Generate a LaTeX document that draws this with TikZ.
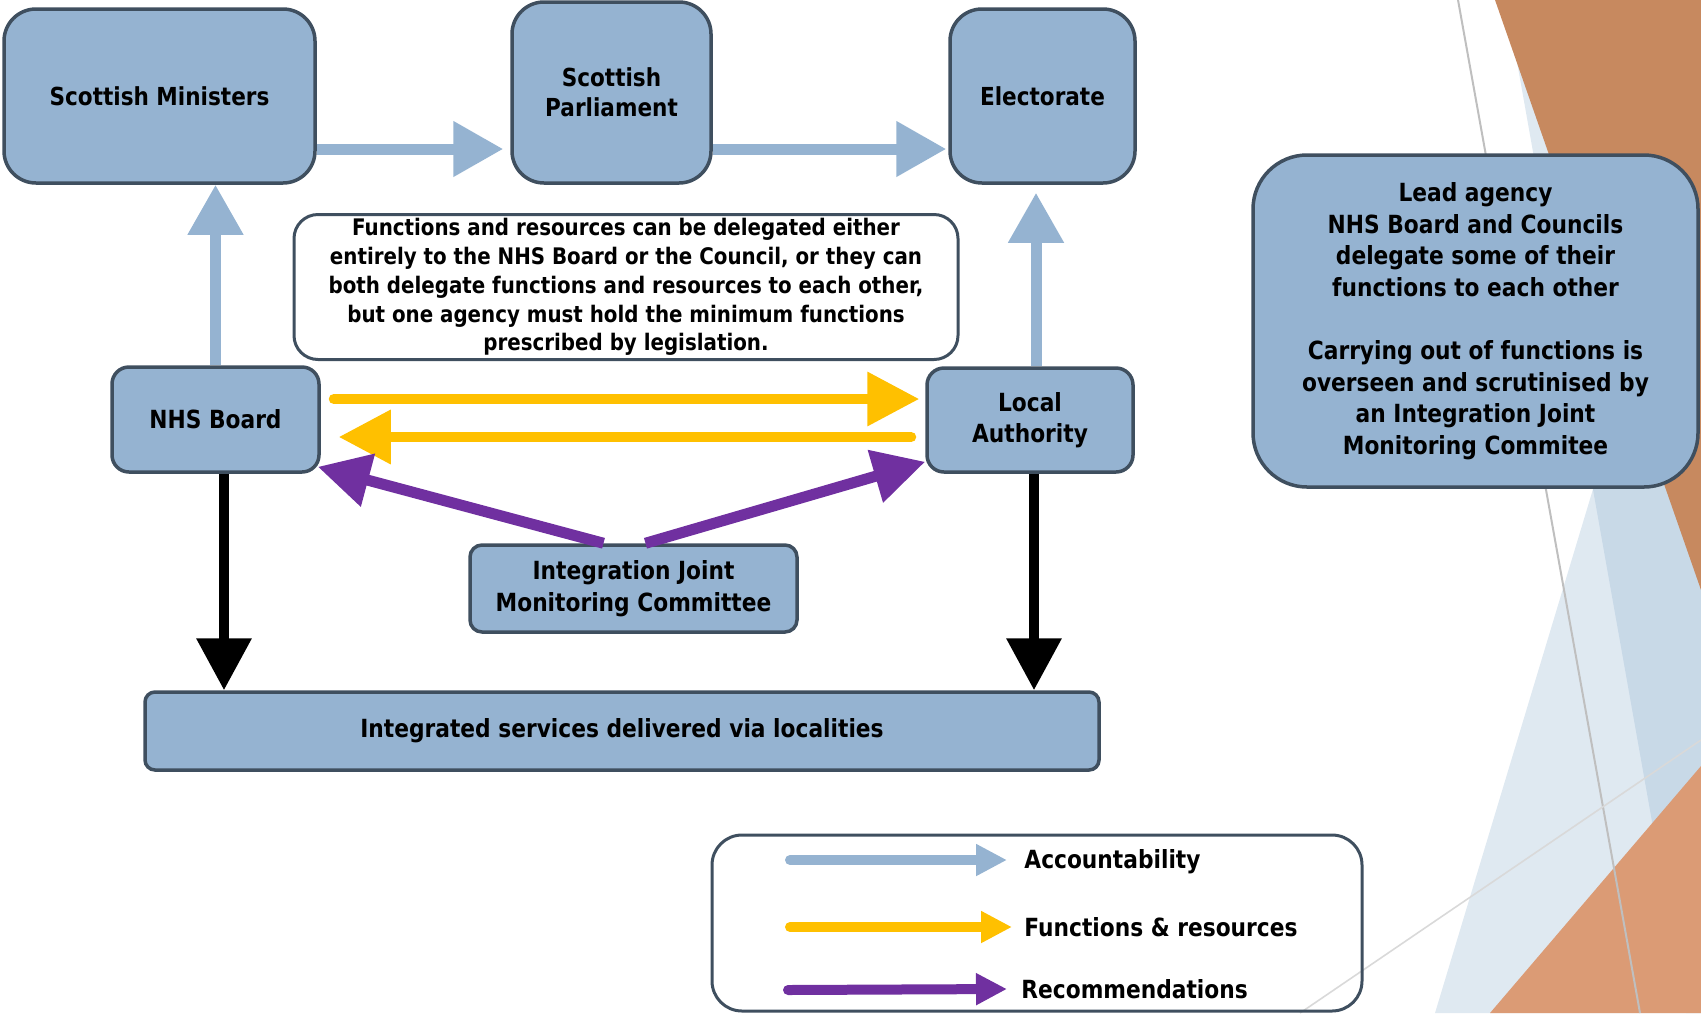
\documentclass[tikz,border=0pt]{standalone}
\usepackage{fontspec}
\usepackage{tikz}
\usetikzlibrary{arrows.meta}

\newfontfamily\diagfont{DejaVu Sans}[FakeStretch=0.87]

\definecolor{boxblue}{HTML}{95B3D1}
\definecolor{boxline}{HTML}{3F4F5F}
\definecolor{fungold}{HTML}{FFC000}
\definecolor{recpurple}{HTML}{7030A0}
\definecolor{facetbrown}{HTML}{C7895F}
\definecolor{facetsand}{HTML}{DB9B75}
\definecolor{facetblue}{HTML}{8CAFCD}

\begin{document}
\begin{tikzpicture}[x=0.5pt, y=-0.5pt,
	every node/.style={font=\diagfont\bfseries\fontsize{12.5}{15.8}\selectfont, align=center, inner sep=0pt},
	agency/.style={draw=boxline, line width=1.75pt, fill=boxblue, rounded corners=#1},
	agency/.default=8.5pt,
	toprow/.style={font=\diagfont\bfseries\fontsize{12.4}{15}\selectfont},
	acc/.style={draw=boxblue, line width=5.5pt, -{Triangle[length=25pt,width=26.5pt]}},
	fun/.style={draw=fungold, line width=5pt, line cap=round, -{Triangle[length=26pt,width=26pt]}},
	rec/.style={draw=recpurple, line width=5.5pt, -{Triangle[length=26pt,width=26pt]}},
	res/.style={draw=black, line width=5pt, -{Triangle[length=26pt,width=26.5pt]}},
	keyarrow/.style={line width=5pt, line cap=round, -{Triangle[length=15.5pt,width=15pt]}},
]

\useasboundingbox (0,0) rectangle (1701,1013);

% Background facets on the right
\fill[facetblue, opacity=0.28] (1506,0) -- (1701,0) -- (1701,1013) -- (1686,1013) -- cycle;
\fill[facetblue, opacity=0.28] (1701,131) -- (1435,1013) -- (1701,1013) -- cycle;
\fill[facetbrown] (1495,0) -- (1701,0) -- (1701,590) -- cycle;
\fill[facetsand] (1490,1013) -- (1701,766) -- (1701,1013) -- cycle;
\draw[black!25, line width=1pt] (1458,0) -- (1640,1013);
\draw[black!15, line width=0.8pt] (1300,1013) -- (1701,740);

% Top row
\node[agency=16pt, toprow, minimum width=155.5pt, minimum height=87pt] (sm) at (159.5,96) {Scottish Ministers};
\node[agency=16pt, toprow, minimum width=99.5pt, minimum height=90.5pt] (sp) at (611.5,92.5) {Scottish\\Parliament};
\node[agency=16pt, toprow, minimum width=92.5pt, minimum height=87pt] (el) at (1042.5,96) {Electorate};

% Note on delegation
\node[draw=boxline, line width=1.5pt, fill=white, rounded corners=12pt,
	minimum width=332pt, minimum height=72.5pt,
	font=\diagfont\bfseries\fontsize{11.4}{14.4}\selectfont] (note) at (626,287)
	{Functions and resources can be delegated either\\entirely to the NHS Board or the Council, or they can\\both delegate functions and resources to each other,\\but one agency must hold the minimum functions\\prescribed by legislation.};

% Agencies
\node[agency, minimum width=103.5pt, minimum height=52.5pt] (nhs) at (215.5,419.5) {NHS Board};
\node[agency, minimum width=103pt, minimum height=52pt] (la) at (1030,420) {Local\\Authority};
\node[agency=6pt, minimum width=163.5pt, minimum height=43.5pt] (ijmc) at (633.5,588.5) {Integration Joint\\Monitoring Committee};
\node[agency=5pt, minimum width=477pt, minimum height=39pt] (isv) at (622,731) {Integrated services delivered via localities};

% Lead agency box
\node[agency=27pt, minimum width=222.5pt, minimum height=166pt] (lead) at (1475.5,321)
	{Lead agency\\NHS Board and Councils\\delegate some of their\\functions to each other\\[15.8pt]Carrying out of functions is\\overseen and scrutinised by\\an Integration Joint\\Monitoring Commitee};

% Rows and columns for the connectors
\coordinate (accrow) at (0,149);
\coordinate (funup) at (0,399);
\coordinate (fundown) at (0,437);
\coordinate (nhsdrop) at (224,0);
\coordinate (ladrop) at (1034,0);
\coordinate (laup) at (1036,0);

% Accountability
\draw[acc, shorten >=3.5pt] (sm.east |- accrow) -- (sp.west |- accrow);
\draw[acc, shorten >=1pt] (sp.east |- accrow) -- (el.west |- accrow);
\draw[acc] (nhs.north) -- (nhs.north |- sm.south);
\draw[acc, shorten >=4pt] (la.north -| laup) -- (el.south -| laup);

% Functions & resources
\draw[fun, shorten <=6.5pt, shorten >=3pt] (nhs.east |- funup) -- (la.west |- funup);
\draw[fun, shorten <=7pt, shorten >=9pt] (la.west |- fundown) -- (nhs.east |- fundown);

% Recommendations
\draw[rec] ([xshift=-15pt]ijmc.north) -- ([shift={(-1.5pt,3.5pt)}]nhs.south east);
\draw[rec] ([xshift=6pt]ijmc.north) -- ([yshift=6pt]la.south west);

% Delivery
\draw[res] (nhs.south -| nhsdrop) -- (isv.north -| nhsdrop);
\draw[res] (la.south -| ladrop) -- (isv.north -| ladrop);

% Legend
\node[draw=boxline, line width=1.5pt, rounded corners=15pt, minimum width=325pt, minimum height=88pt] (key) at (1037,923) {};
\coordinate (kacc0) at (790,860);
\coordinate (kfun0) at (790,927);
\coordinate (krec0) at (788,990);
\node[anchor=west] (kacc) at (1024,862) {Accountability};
\node[anchor=west] (kfun) at (1024,927) {Functions \& resources};
\node[anchor=west] (krec) at (1021,989) {Recommendations};
\draw[keyarrow, draw=boxblue, fill=boxblue] (kacc0) -- ([xshift=-8.5pt]kacc.west |- kacc0);
\draw[keyarrow, draw=fungold, fill=fungold] (kfun0) -- ([xshift=-6pt]kfun.west);
\draw[keyarrow, draw=recpurple, fill=recpurple] (krec0) -- ([xshift=-7pt]krec.west);

\end{tikzpicture}
\end{document}
